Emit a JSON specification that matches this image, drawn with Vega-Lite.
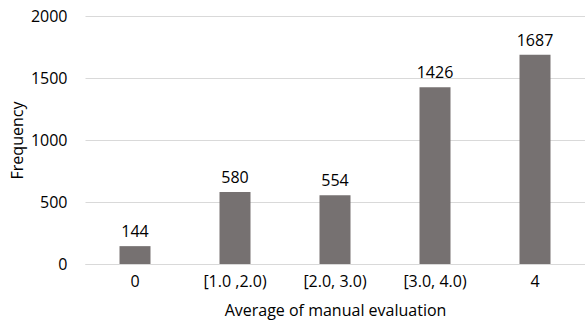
{
  "$schema": "https://vega.github.io/schema/vega-lite/v6.json",
  "width": 500,
  "height": 248,
  "autosize": "none",
  "padding": {"left": 85, "top": 16, "right": 0, "bottom": 63},
  "background": "white",
  "config": {"view": {"stroke": null}, "font": "Open Sans"},
  "data": {"values": [
    {"cat": "0", "freq": 144},
    {"cat": "[1.0 ,2.0)", "freq": 580},
    {"cat": "[2.0, 3.0)", "freq": 554},
    {"cat": "[3.0, 4.0)", "freq": 1426},
    {"cat": "4", "freq": 1687}
  ]},
  "encoding": {
    "x": {"field": "cat", "type": "nominal", "sort": null,
      "scale": {"paddingInner": 0.69, "paddingOuter": 0.345},
      "axis": {"title": "Average of manual evaluation", "labelAngle": 0, "ticks": false, "domainColor": "#d9d9d9", "labelFontSize": 16, "labelColor": "#000", "labelPadding": 9, "titleFontSize": 16, "titleFontWeight": "normal", "titleColor": "#000", "titlePadding": 13}},
    "y": {"field": "freq", "type": "quantitative",
      "scale": {"domain": [0, 2000]},
      "axis": {"title": "Frequency", "values": [0, 500, 1000, 1500, 2000], "format": "d", "ticks": false, "domain": false, "gridColor": "#d9d9d9", "labelFontSize": 16, "labelColor": "#000", "labelPadding": 18, "titleFontSize": 16, "titleFontWeight": "normal", "titleColor": "#000", "titlePadding": 5}}
  },
  "layer": [
    {"mark": {"type": "bar", "color": "#767171"}},
    {"mark": {"type": "text", "baseline": "bottom", "dy": -6, "fontSize": 16, "color": "#000"},
     "encoding": {"text": {"field": "freq", "type": "quantitative", "format": "d"}}}
  ]
}
